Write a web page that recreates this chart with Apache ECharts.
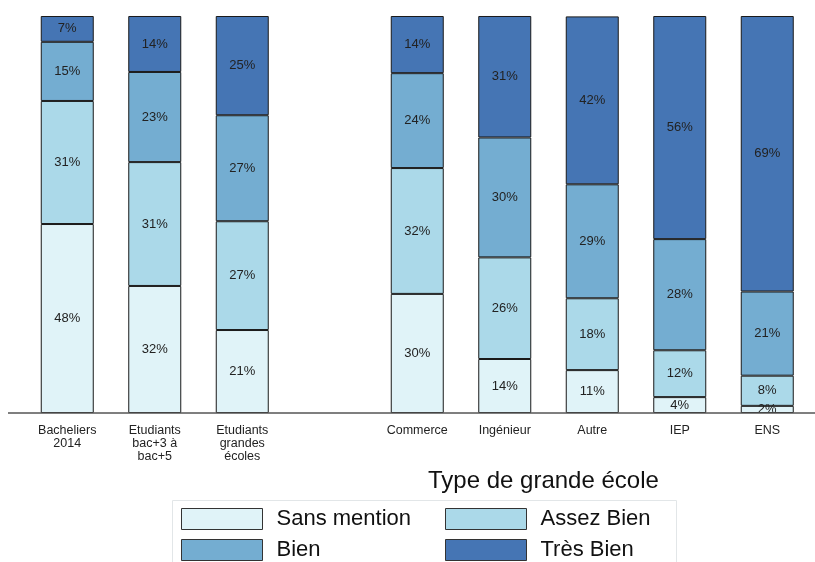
<!DOCTYPE html>
<html>
<head>
<meta charset="utf-8">
<script src="https://cdn.jsdelivr.net/npm/echarts@6/dist/echarts.min.js"></script>
<style>html,body{margin:0;padding:0;background:#fff}#c{width:815px;height:562px}</style>
</head>
<body>
<div id="c"></div>
<script>
const categories = ['Bacheliers\n2014', 'Etudiants\nbac+3 à\nbac+5', 'Etudiants\ngrandes\nécoles', '', 'Commerce', 'Ingénieur', 'Autre', 'IEP', 'ENS'];
const seriesNames = ['Sans mention', 'Assez Bien', 'Bien', 'Très Bien'];
const sansMention = [47.6, 32.0, 20.9, null, 30.0, 13.6, 10.8, 4.0, 1.8];
const assezBien   = [31.0, 31.2, 27.4, null, 31.7, 25.6, 18.1, 11.8, 7.6];
const bien        = [14.9, 22.7, 26.7, null, 23.9, 30.2, 28.7, 28.0, 21.2];
const tresBien    = [6.5, 14.1, 25.0, null, 14.4, 30.6, 42.3, 56.2, 69.4];
const colors = ['#e0f3f8', '#abd9e9', '#74add1', '#4575b4'];
const xTitle = 'Type de grande école';

const FONT = 'Liberation Sans, Arial, Helvetica, sans-serif';
const chart = echarts.init(document.getElementById('c'), null, {renderer: 'canvas'});
const values = [sansMention, assezBien, bien, tresBien];
const series = values.map((arr, i) => ({
  name: seriesNames[i],
  type: 'bar',
  stack: 'total',
  barWidth: 53,
  data: arr,
  itemStyle: {color: colors[i], borderColor: '#1a1a1a', borderWidth: 1},
  label: {
    show: true, position: 'inside', fontFamily: FONT, fontSize: 13, color: '#222',
    formatter: p => (p.value == null ? '' : Math.round(p.value) + '%')
  },
  labelLayout: {hideOverlap: false},
  emphasis: {disabled: true}
}));

const legendCommon = {
  orient: 'vertical', top: 508,
  itemWidth: 81, itemHeight: 21, itemGap: 9, padding: 0,
  icon: 'rect',
  itemStyle: {borderColor: '#333', borderWidth: 1},
  textStyle: {fontFamily: FONT, fontSize: 22, color: '#111', padding: [0, 0, 0, 9]},
  selectedMode: false
};

chart.setOption({
  animation: false,
  backgroundColor: '#fff',
  grid: {left: 23.5, right: 4, top: 16, bottom: 149, containLabel: false},
  xAxis: {
    type: 'category', data: categories,
    axisLine: {show: false}, axisTick: {show: false},
    axisLabel: {fontFamily: FONT, fontSize: 12.5, color: '#222', lineHeight: 13, margin: 11, interval: 0}
  },
  yAxis: {type: 'value', min: 0, max: 100, show: false},
  legend: [
    Object.assign({data: [seriesNames[0], seriesNames[2]], left: 181}, legendCommon),
    Object.assign({data: [seriesNames[1], seriesNames[3]], left: 445}, legendCommon)
  ],
  graphic: [
    {type: 'line', shape: {x1: 8, y1: 413, x2: 815, y2: 413}, style: {stroke: '#555', lineWidth: 1.5}, z: 10},
    {type: 'text', left: 428, top: 469, style: {text: xTitle, font: '24px ' + FONT, fill: '#111'}},
    {type: 'rect', shape: {x: 172.5, y: 500.5, width: 504, height: 80}, style: {fill: 'none', stroke: '#e2e6e8', lineWidth: 1}}
  ],
  series: series
});
</script>
</body>
</html>
